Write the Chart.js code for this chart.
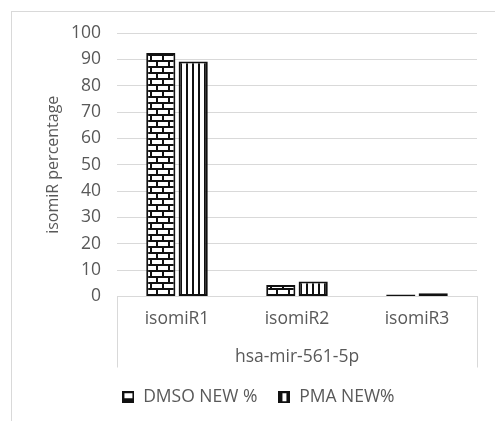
<!DOCTYPE html>
<html>
<head>
<meta charset="utf-8">
<script src="https://cdn.jsdelivr.net/npm/chart.js@4.4.1/dist/chart.umd.min.js"></script>
<style>
  html, body { margin: 0; padding: 0; background: #ffffff; }
  #wrap { position: relative; width: 495px; height: 421px; overflow: hidden; }
  #frame { position: absolute; left: 11px; top: 11px; width: 600px; height: 600px;
           border: 1px solid #d9d9d9; box-sizing: border-box; }
  canvas { position: absolute; left: 0; top: 0; }
</style>
</head>
<body>
<div id="wrap">
  <div id="frame"></div>
  <canvas id="chart" width="495" height="421"></canvas>
</div>
<script>
// Chart data
const categories = ['isomiR1', 'isomiR2', 'isomiR3'];
const groupLabel = ['hsa-mir-561-5p'];
const seriesNames = ['DMSO NEW %', 'PMA NEW%'];
const dmsoValues = [92.4, 4.4, 0.8];
const pmaValues = [89.2, 5.7, 1.2];

const TEXT = '#595959';
const GRID = '#d9d9d9';
const FONT = "'Open Sans', sans-serif";

function makeTile(w, h, paint) {
  const c = document.createElement('canvas');
  c.width = w; c.height = h;
  const g = c.getContext('2d');
  paint(g, w, h);
  return c;
}

// Brick fill
const brickTile = makeTile(12, 12, (g, w, h) => {
  g.fillStyle = '#ffffff'; g.fillRect(0, 0, w, h);
  g.fillStyle = '#111111';
  g.fillRect(0, 0, w, 2);
  g.fillRect(0, 6, w, 2);
  g.fillRect(0, 0, 2, 6);
  g.fillRect(6, 6, 2, 6);
});
// Vertical stripe fill
const stripeTile = makeTile(6, 4, (g, w, h) => {
  g.fillStyle = '#ffffff'; g.fillRect(0, 0, w, h);
  g.fillStyle = '#111111';
  g.fillRect(0, 0, 2, h);
});
const tmpCtx = document.createElement('canvas').getContext('2d');
const brickPattern = tmpCtx.createPattern(brickTile, 'repeat');
const stripePattern = tmpCtx.createPattern(stripeTile, 'repeat');

// Legend swatches
const dmsoSwatch = makeTile(12, 12, (g) => {
  g.fillStyle = '#111111'; g.fillRect(0, 0, 12, 12);
  g.fillStyle = '#ffffff'; g.fillRect(2, 2, 8, 5);
});
const pmaSwatch = makeTile(12, 12, (g) => {
  g.fillStyle = '#111111'; g.fillRect(0, 0, 12, 12);
  g.fillStyle = '#ffffff'; g.fillRect(4, 2, 4, 8);
});

// Side lines of the two-level category axis
const categoryBox = {
  id: 'categoryBox',
  afterDraw(chart) {
    const x = chart.scales.x, x2 = chart.scales.x2;
    const ctx = chart.ctx;
    ctx.save();
    ctx.strokeStyle = GRID;
    ctx.lineWidth = 1;
    ctx.beginPath();
    [x.left, x.right].forEach(px => {
      const p = Math.round(px) + 0.5;
      ctx.moveTo(p, chart.chartArea.bottom);
      ctx.lineTo(p, x2.bottom);
    });
    ctx.stroke();
    ctx.restore();
  }
};

new Chart(document.getElementById('chart'), {
  type: 'bar',
  data: {
    labels: categories,
    datasets: [
      { label: seriesNames[0], data: dmsoValues, backgroundColor: brickPattern,
        borderColor: '#111111', borderWidth: 2, borderSkipped: false,
        pointStyle: dmsoSwatch },
      { label: seriesNames[1], data: pmaValues, backgroundColor: stripePattern,
        borderColor: '#111111', borderWidth: 2, borderSkipped: false,
        pointStyle: pmaSwatch }
    ]
  },
  options: {
    responsive: false,
    animation: false,
    devicePixelRatio: 1,
    layout: { padding: { left: 40, right: 18, top: 33, bottom: 5 } },
    datasets: { bar: { categoryPercentage: 0.54, barPercentage: 0.9 } },
    plugins: {
      tooltip: { enabled: false },
      legend: {
        position: 'bottom',
        labels: {
          usePointStyle: true,
          boxWidth: 12, boxHeight: 12,
          padding: 21,
          color: TEXT,
          font: { family: FONT, size: 17.5 }
        }
      }
    },
    scales: {
      y: {
        min: 0, max: 100,
        ticks: { stepSize: 10, color: TEXT, padding: 16, font: { family: FONT, size: 17.5 } },
        grid: { color: GRID, drawTicks: false },
        border: { display: false },
        title: { display: true, text: 'isomiR percentage', color: TEXT,
                 font: { family: FONT, size: 16 }, padding: { top: 4, bottom: 0 } },
        afterFit(s) { s.width = 77; }
      },
      x: {
        position: 'bottom',
        ticks: { color: TEXT, padding: 12, font: { family: FONT, size: 17.5 } },
        grid: { display: false, drawTicks: false },
        border: { display: true, color: GRID },
        afterFit(s) { s.height = 44; }
      },
      x2: {
        type: 'category',
        position: 'bottom',
        labels: groupLabel,
        offset: true,
        ticks: { color: TEXT, padding: 6, font: { family: FONT, size: 17.5 } },
        grid: { display: false, drawTicks: false },
        border: { display: false },
        afterFit(s) { s.height = 27; }
      }
    }
  },
  plugins: [categoryBox]
});
</script>
</body>
</html>
